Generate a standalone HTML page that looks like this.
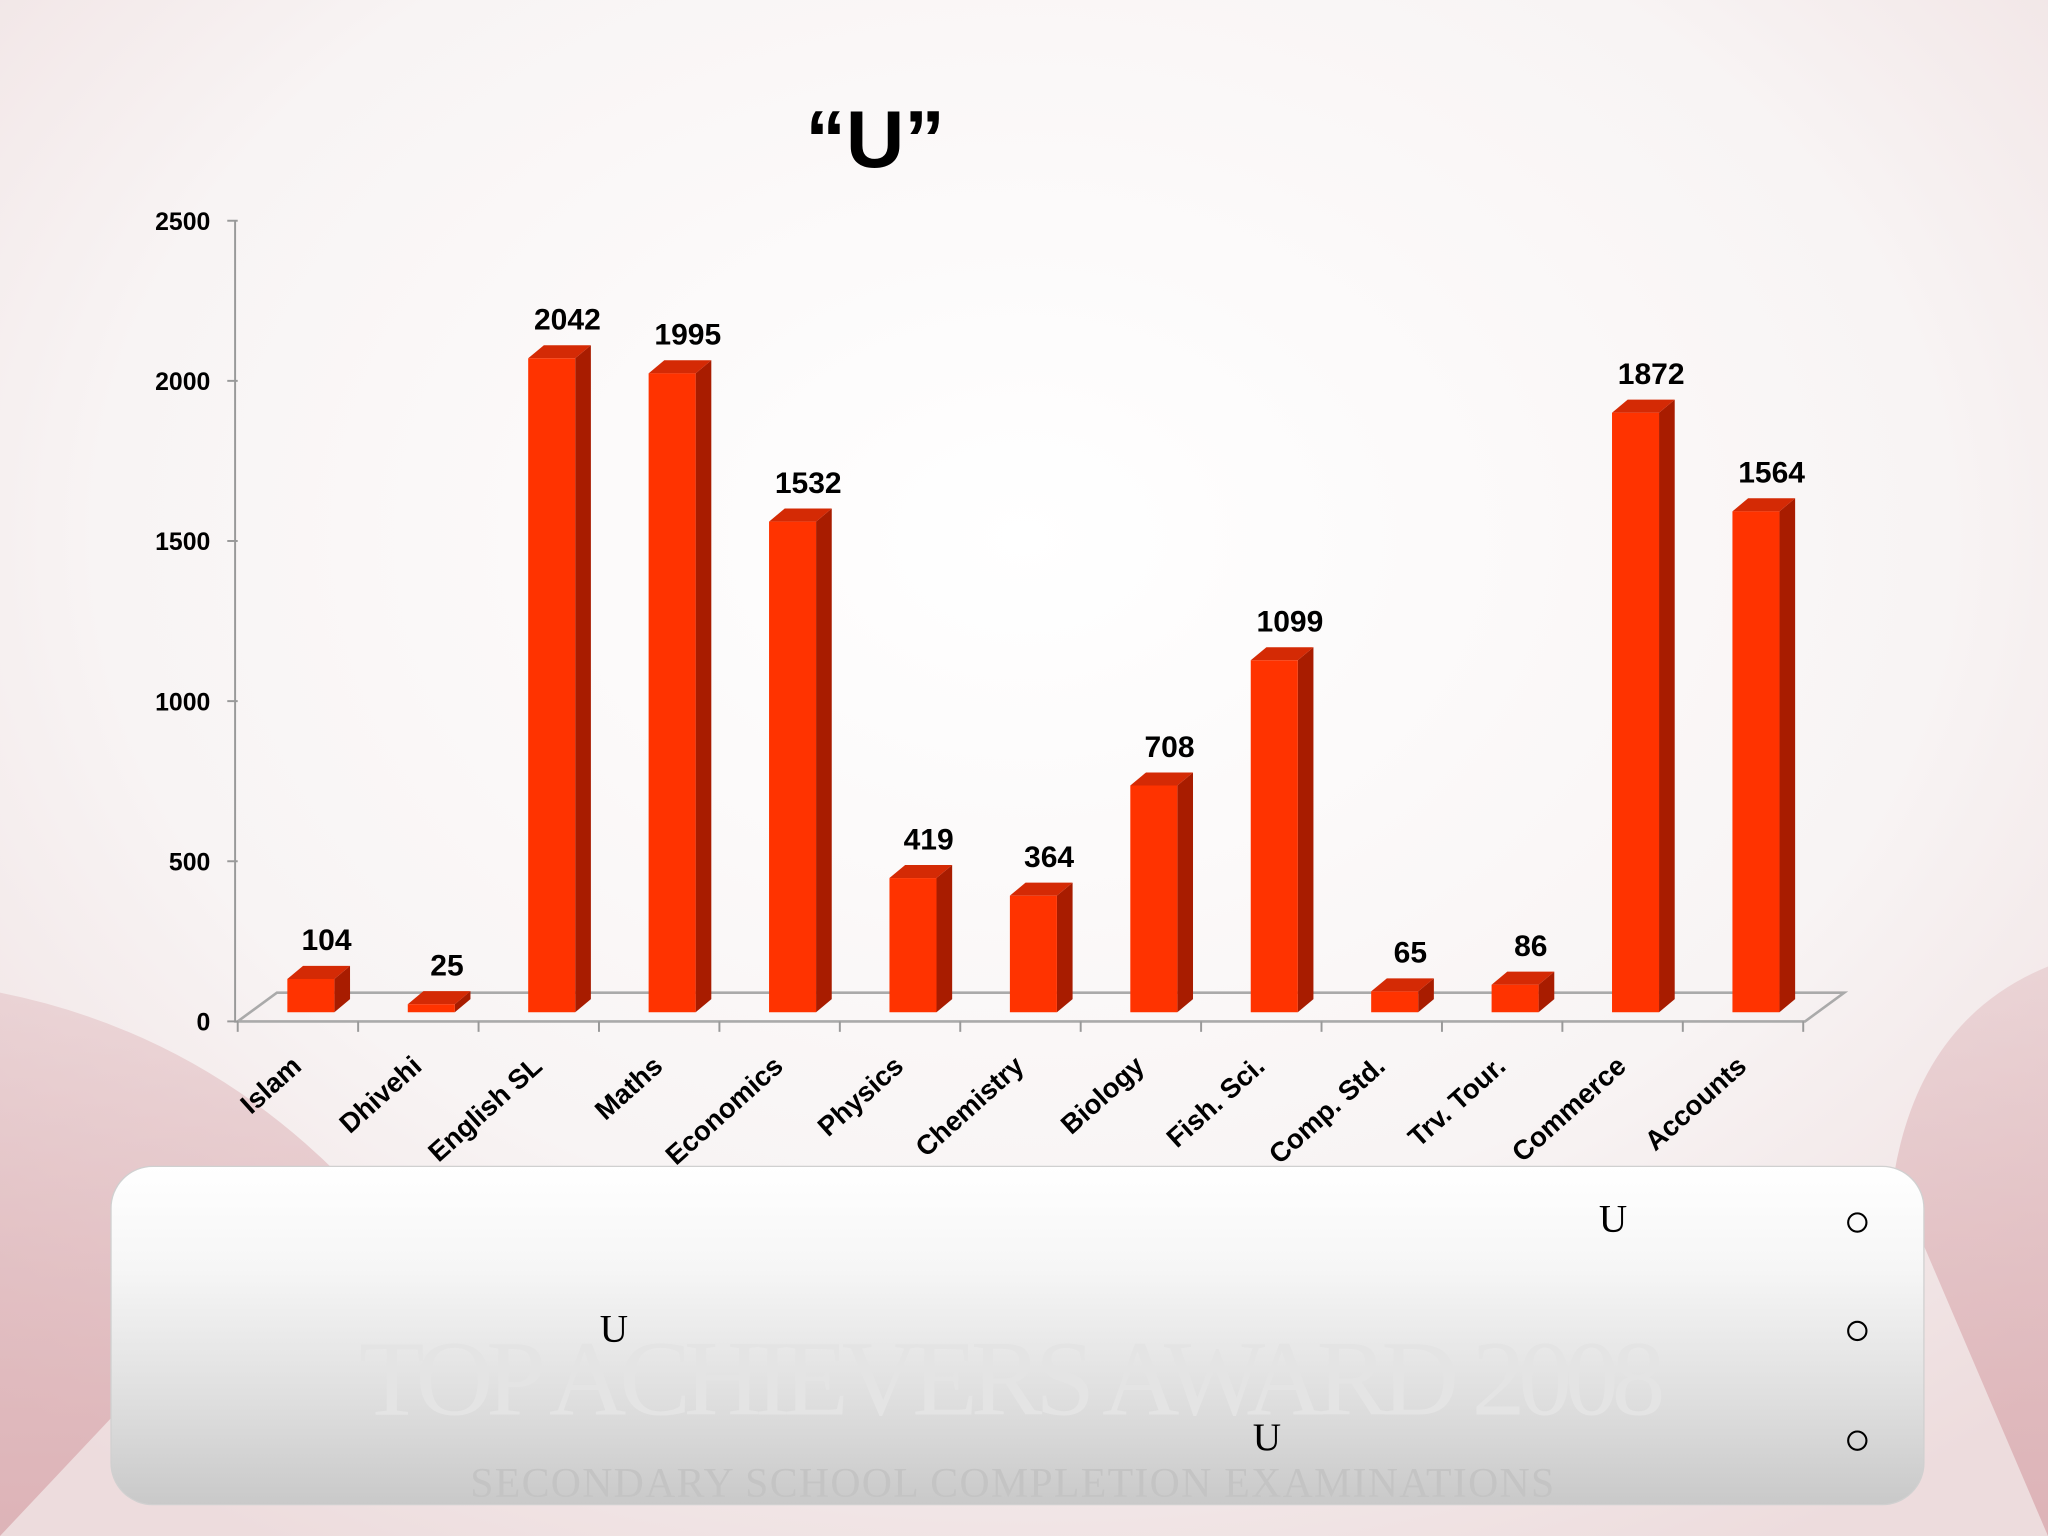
<!DOCTYPE html>
<html><head><meta charset="utf-8"><style>
html,body{margin:0;padding:0;width:2048px;height:1536px;overflow:hidden;background:#fbf8f8}
svg{display:block}
.s{font-family:"Liberation Sans",sans-serif}
.r{font-family:"Liberation Serif",serif}
</style></head><body>
<svg width="2048" height="1536" viewBox="0 0 1568 1176" xmlns="http://www.w3.org/2000/svg">
<defs>
<radialGradient id="bg" cx="0.5" cy="0.35" r="0.75">
<stop offset="0" stop-color="#ffffff"/><stop offset="0.6" stop-color="#f8f4f4"/><stop offset="1" stop-color="#eddcdd"/></radialGradient>
<linearGradient id="box" x1="0" y1="0" x2="0" y2="1">
<stop offset="0" stop-color="#ffffff"/><stop offset="0.3" stop-color="#f6f6f6"/><stop offset="0.7" stop-color="#dedede"/><stop offset="1" stop-color="#c9c9c9"/></linearGradient>
<linearGradient id="sw" x1="0" y1="0" x2="0" y2="1">
<stop offset="0" stop-color="#d9a9ae" stop-opacity="0.35"/><stop offset="1" stop-color="#d9a9ae" stop-opacity="0.8"/></linearGradient>
</defs>
<rect width="1568" height="1176" fill="url(#bg)"/>
<path d="M0 760 Q150 790 260 900 L0 1176 Z" fill="url(#sw)"/>
<path d="M1568 740 Q1470 780 1450 900 L1568 1176 Z" fill="url(#sw)"/>
<text class="s" x="670" y="128" font-size="62" font-weight="bold" text-anchor="middle" fill="#000">“U”</text>
<g id="chart"></g>
<rect x="85" y="893" width="1388" height="259" rx="32" fill="url(#box)" stroke="#d0d0d0"/>
<text class="r" x="775" y="1083" font-size="82" fill="#e4e4e4" text-anchor="middle" textLength="1000">TOP ACHIEVERS AWARD 2008</text>
<text class="r" x="775" y="1146" font-size="32" fill="#c4c4c4" text-anchor="middle" textLength="830">SECONDARY SCHOOL COMPLETION EXAMINATIONS</text>
<text class="r" x="1235" y="943" font-size="30" text-anchor="middle">U</text>
<text class="r" x="470" y="1027" font-size="30" text-anchor="middle">U</text>
<text class="r" x="970" y="1110" font-size="30" text-anchor="middle">U</text>
<circle cx="1422" cy="936" r="7" fill="none" stroke="#000" stroke-width="1.6"/>
<circle cx="1422" cy="1019" r="7" fill="none" stroke="#000" stroke-width="1.6"/>
<circle cx="1422" cy="1103" r="7" fill="none" stroke="#000" stroke-width="1.6"/>
</svg>
<script>
const categories=["Islam","Dhivehi","English SL","Maths","Economics","Physics","Chemistry","Biology","Fish. Sci.","Comp. Std.","Trv. Tour.","Commerce","Accounts"];
const values=[104,25,2042,1995,1532,419,364,708,1099,65,86,1872,1564];
const yTicks=[0,500,1000,1500,2000,2500];
const NS="http://www.w3.org/2000/svg";
const g=document.getElementById('chart');
const x0=182,step=92.2,base=782,ppu=(782-169)/2500;
const dx=30,dy=-22;
function yScale(v){return base-v*ppu;}
function xScale(i){return x0+i*step;}
function mk(t,a,p){const e=document.createElementNS(NS,t);for(const k in a)e.setAttribute(k,a[k]);(p||g).appendChild(e);return e;}
let ax=mk('line',{x1:180,y1:169,x2:180,y2:782,stroke:'#999','stroke-width':1.5});


let fl=mk('path',{d:`M182 782 L${182+dx} ${782+dy} L1412 ${782+dy} L1382 782 Z`,fill:'none',stroke:'#aaa','stroke-width':2});


yTicks.forEach(v=>{
  const y=yScale(v);
  let l=mk('line',{x1:174,y1:y,x2:182,y2:y,stroke:'#999','stroke-width':1.5});
  
  
  let t=mk('text',{class:'s',x:161,y:y+7,'font-size':19,'font-weight':'bold','text-anchor':'end'});
  t.textContent=v;
  
  
});
for(let i=0;i<=categories.length;i++){
  let l=mk('line',{x1:xScale(i),y1:782,x2:xScale(i),y2:790,stroke:'#999','stroke-width':1.5});
  
  
}
const bb=775,bw=36,sd=12,sh=-10;
categories.forEach((c,i)=>{
  const xl=xScale(i)+38, top=bb-values[i]*ppu;
  const bar=mk('g',{});
  
  
  mk('path',{d:`M${xl+bw} ${bb} L${xl+bw+sd} ${bb+sh} L${xl+bw+sd} ${top+sh} L${xl+bw} ${top} Z`,fill:'#a81c00'},bar);
  mk('path',{d:`M${xl} ${top} L${xl+sd} ${top+sh} L${xl+bw+sd} ${top+sh} L${xl+bw} ${top} Z`,fill:'#d42a05'},bar);
  mk('rect',{x:xl,y:top,width:bw,height:bb-top,fill:'#ff3300'},bar);
  let t=mk('text',{class:'s',x:xl+bw/2+12,y:top-22,'font-size':23,'font-weight':'bold','text-anchor':'middle'});
  t.textContent=values[i];
  
  
  const lx=xScale(i)+50,ly=818;
  let cl=mk('text',{class:'s',x:lx,y:ly,'font-size':21,'font-weight':'bold','text-anchor':'end',transform:`rotate(-42 ${lx} ${ly})`});
  cl.textContent=c;
  
  
});
</script>
</body></html>
